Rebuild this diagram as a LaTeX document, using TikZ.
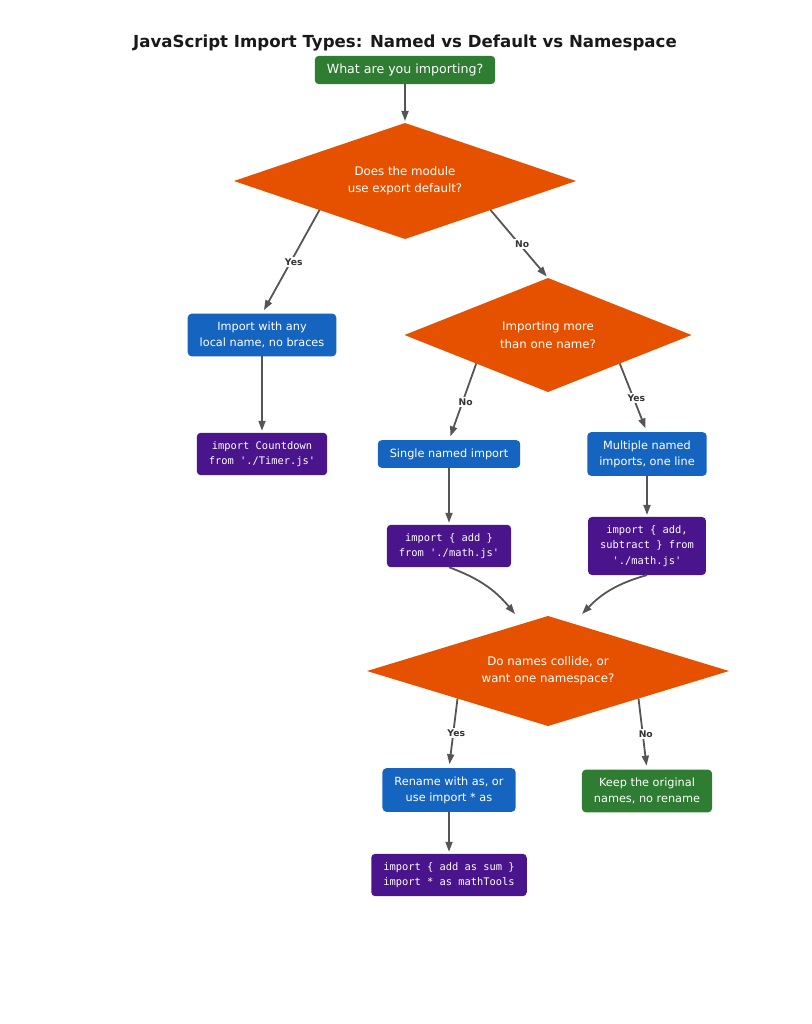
\documentclass[tikz,border=0pt]{standalone}
\usepackage{fontspec}
\setmainfont{DejaVu Sans}
\setmonofont{DejaVu Sans Mono}
\usetikzlibrary{arrows.meta, positioning, shapes.geometric, calc}

\definecolor{termgreen}{HTML}{2E7D32}
\definecolor{askorange}{HTML}{E65100}
\definecolor{stepblue}{HTML}{1565C0}
\definecolor{codepurple}{HTML}{4A148C}
\definecolor{arrowgray}{HTML}{555555}
\definecolor{labelgray}{HTML}{333333}

\begin{document}
\begin{tikzpicture}[
    x=1pt, y=1pt,
    box/.style={rounded corners=4pt, inner xsep=12pt, inner ysep=8.4pt, outer sep=0pt, text=white, align=center, font=\fontsize{11.3}{16}\selectfont},
    termbox/.style={box, fill=termgreen},
    actbox/.style={box, fill=stepblue},
    codebox/.style={box, fill=codepurple, font=\ttfamily\fontsize{10.4}{15.6}\selectfont},
    decision/.style={diamond, aspect=3, fill=askorange, inner sep=0pt, outer sep=0pt, text=white, align=center, font=\fontsize{11.8}{17.2}\selectfont},
    arr/.style={-{Triangle[length=10pt, width=7pt]}, line width=1.8pt, arrowgray, shorten >=2pt},
    elabel/.style={font=\fontsize{9.2}{10}\selectfont\bfseries, text=labelgray, fill=white, inner sep=1.5pt, xshift=3pt},
]
\useasboundingbox (0,0) rectangle (811,-1024);

% ── Title ──
\node[font=\fontsize{16.6}{19}\selectfont\bfseries, text=black!90] (title) at (405,-43) {JavaScript Import Types: Named vs Default vs Namespace};

% ── Nodes ──
\node[termbox, font=\fontsize{12.6}{16}\selectfont, inner ysep=8pt] (what) at (405,-70) {What are you importing?};
\node[decision, minimum width=342, minimum height=116] (dflt) at (405,-181) {Does the module\\use export default?};

\node[actbox] (anyname) at (262,-335) {Import with any\\local name, no braces};
\node[codebox] (cdflt) at (262,-454) {import Countdown\\from './Timer.js'};

\node[decision, minimum width=287, minimum height=114] (many) at (548,-335) {Importing more\\than one name?};
\node[actbox] (single) at (449,-454) {Single named import};
\node[actbox] (multi) at (647,-454) {Multiple named\\imports, one line};
\node[codebox] (csingle) at (449,-546) {import \{ add \}\\from './math.js'};
\node[codebox] (cmulti) at (647,-546) {import \{ add,\\subtract \} from\\'./math.js'};

\node[decision, minimum width=362, minimum height=110] (clash) at (548,-671) {Do names collide, or\\want one namespace?};
\node[actbox] (rename) at (449,-790) {Rename with as, or\\use import * as};
\node[termbox] (keep) at (647,-791) {Keep the original\\names, no rename};
\node[codebox] (crename) at (449,-875) {import \{ add as sum \}\\import * as mathTools};

\coordinate (inL) at ($(clash.north)+(-33,2)$);
\coordinate (inR) at ($(clash.north)+(34,2)$);

% ── Arrows with edge labels ──
\draw[arr] (what.south) -- (dflt.north);
\draw[arr, shorten >=4pt] ($(dflt.west)!0.5!(dflt.south)$) -- node[elabel] {Yes} (anyname.north);
\draw[arr] ($(dflt.east)!0.5!(dflt.south)$) -- node[elabel] {No} (many.north);
\draw[arr] (anyname.south) -- (cdflt.north);
\draw[arr, shorten >=4pt] ($(many.west)!0.5!(many.south)$) -- node[elabel] {No} (single.north);
\draw[arr, shorten >=4pt] ($(many.east)!0.5!(many.south)$) -- node[elabel] {Yes} (multi.north);
\draw[arr] (single.south) -- (csingle.north);
\draw[arr] (multi.south) -- (cmulti.north);
\draw[arr, shorten >=0pt] (csingle.south) to[bend left=15] (inL);
\draw[arr, shorten >=0pt] (cmulti.south) to[bend right=15] (inR);
\draw[arr, shorten >=4pt] ($(clash.west)!0.5!(clash.south)$) -- node[elabel] {Yes} (rename.north);
\draw[arr, shorten >=4pt] ($(clash.east)!0.5!(clash.south)$) -- node[elabel] {No} (keep.north);
\draw[arr] (rename.south) -- (crename.north);

\end{tikzpicture}
\end{document}
